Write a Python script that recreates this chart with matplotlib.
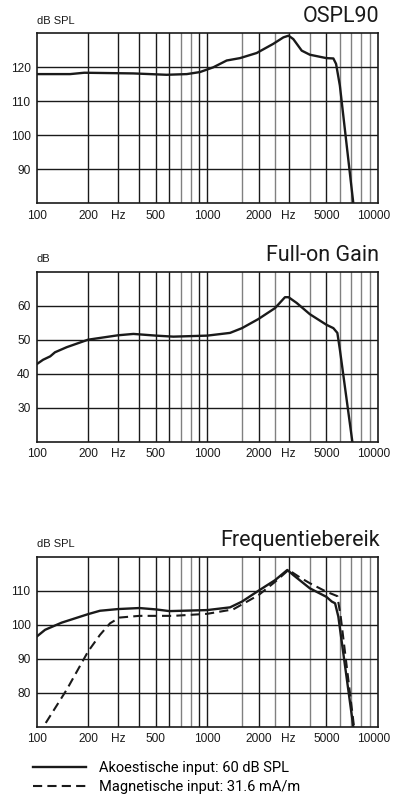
import matplotlib
matplotlib.use('Agg')
import matplotlib.pyplot as plt
import matplotlib.transforms as mtransforms
import numpy as np

# OSPL90 curve
ospl_f = [100, 157, 190, 369, 578, 759, 907, 1086, 1301, 1557, 1950, 2441, 2797, 3000,
          3199, 3584, 4000, 5000, 5495, 5700, 6000, 7194]
ospl_db = [118.0, 118.0, 118.4, 118.2, 117.8, 118.0, 118.6, 120.0, 122.0, 122.7, 124.2, 126.9,
           128.8, 129.3, 128.3, 124.9, 123.7, 122.7, 122.6, 121.0, 114.6, 80.0]

# Full-on gain curve
gain_f = [100, 109, 120, 128, 150, 200, 300, 369, 500, 633, 1000, 1361, 1600, 2000, 2500,
          2858, 3000, 3350, 4000, 5000, 5495, 5800, 6000, 7100]
gain_db = [42.8, 44.1, 45.1, 46.3, 47.8, 50.0, 51.3, 51.7, 51.2, 50.9, 51.2, 52.0, 53.4, 56.1,
           59.3, 62.5, 62.5, 60.8, 57.5, 54.4, 53.4, 52.0, 47.1, 20.0]

# Frequentiebereik - acoustic input
ac_f = [100, 112, 140, 200, 235, 300, 400, 500, 600, 1000, 1361, 1600, 2000, 2500, 2950,
        3199, 4000, 5000, 5380, 5623, 5875, 6285, 7194]
ac_db = [96.5, 98.5, 100.6, 103.1, 104.1, 104.6, 104.9, 104.5, 104.0, 104.3, 105.1, 106.8,
         110.0, 113.1, 116.1, 114.6, 110.7, 108.2, 106.8, 106.3, 102.4, 91.6, 70.0]

# Frequentiebereik - magnetic input
mag_f = [113, 150, 200, 235, 269, 306, 400, 633, 1000, 1420, 2000, 2500, 3000, 3500, 4000,
         5000, 5800, 6067, 7262]
mag_db = [71.1, 80.9, 92.1, 97.0, 100.4, 102.1, 102.6, 102.6, 103.2, 104.5, 108.7, 112.6,
          116.1, 113.9, 112.2, 109.7, 108.4, 102.4, 70.0]

xtick_pos = [100, 200, 300, 500, 1000, 2000, 3000, 5000, 10000]
xtick_lab = ['100', '200', 'Hz', '500', '1000', '2000', 'Hz', '5000', '10000']
dark_grid = [200, 300, 400, 500, 600, 900, 1000, 2000, 3000, 5000]
gray_grid = [700, 800, 1600, 2500, 4000, 6000, 7000, 8000, 9000]

tick_font = ['Liberation Sans Narrow', 'Liberation Sans', 'DejaVu Sans']
title_font = ['Roboto', 'DejaVu Sans']

fig = plt.figure(figsize=(3.93, 7.98), dpi=100)
W, H = 393, 798


def make_axes(top, bottom):
    left, right = 36.7, 377.7
    return fig.add_axes([left / W, 1 - bottom / H, (right - left) / W, (bottom - top) / H])


def style(ax, ylim, yticks, unit, title):
    ax.set_xscale('log')
    ax.set_xlim(100, 10000)
    ax.set_ylim(*ylim)
    for x in dark_grid:
        ax.axvline(x, color='#1a1a1a', lw=1.0, zorder=1)
    for x in gray_grid:
        ax.axvline(x, color='#808080', lw=1.0, zorder=1)
    for y in yticks:
        ax.axhline(y, color='#1a1a1a', lw=1.0, zorder=1)
    ax.set_xticks(xtick_pos)
    ax.set_xticklabels(xtick_lab, family=tick_font, fontsize=8.6)
    ax.xaxis.set_minor_locator(matplotlib.ticker.NullLocator())
    ax.set_yticks(yticks)
    ax.set_yticklabels([str(v) for v in yticks], family=tick_font, fontsize=8.6)
    ax.tick_params(length=0, pad=4.5, colors='#1a1a1a')
    # keep the last label inside the figure
    last = ax.get_xticklabels()[-1]
    last.set_transform(last.get_transform() +
                       mtransforms.ScaledTranslation(-3 / 72, 0, fig.dpi_scale_trans))
    for s in ax.spines.values():
        s.set_linewidth(1.2)
        s.set_color('#1a1a1a')
    ax.text(0, 1.045, unit, transform=ax.transAxes, ha='left', va='bottom',
            family=tick_font, fontsize=8, color='#1a1a1a')
    ax.text(1.005, 1.035, title, transform=ax.transAxes, ha='right', va='bottom',
            family=title_font, fontsize=15.5, color='#1a1a1a')


ax1 = make_axes(33.3, 203.3)
style(ax1, (80, 130), [90, 100, 110, 120], 'dB SPL', 'OSPL90')
ax1.plot(ospl_f, ospl_db, color='#1a1a1a', lw=1.7, zorder=3, solid_joinstyle='round')

ax2 = make_axes(271.7, 441.7)
style(ax2, (20, 70), [30, 40, 50, 60], 'dB', 'Full-on Gain')
ax2.plot(gain_f, gain_db, color='#1a1a1a', lw=1.7, zorder=3, solid_joinstyle='round')

ax3 = make_axes(556.7, 726.7)
style(ax3, (70, 120), [80, 90, 100, 110], 'dB SPL', 'Frequentiebereik')
l1, = ax3.plot(ac_f, ac_db, color='#1a1a1a', lw=1.7, zorder=3, solid_joinstyle='round')
l2, = ax3.plot(mag_f, mag_db, color='#1a1a1a', lw=1.5, ls=(0, (4.4, 2.5)), zorder=3)

fig.legend([l1, l2], ['Akoestische input: 60 dB SPL', 'Magnetische input: 31.6 mA/m'],
           loc='upper left', bbox_to_anchor=(33 / W, 1 - 761 / H), frameon=False,
           prop={'family': title_font, 'size': 10.5}, handlelength=3.6, handletextpad=0.9,
           labelspacing=0.35, borderaxespad=0, borderpad=0)

fig.savefig('out.png', dpi=100)
